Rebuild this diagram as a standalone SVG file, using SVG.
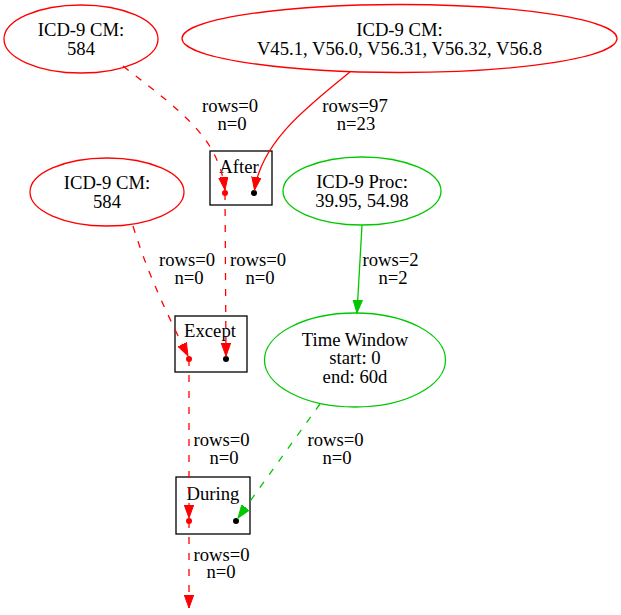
<svg xmlns="http://www.w3.org/2000/svg" width="621" height="615" viewBox="0 0 621 615">
<defs>
<style>
text{font-family:"Liberation Serif","Times New Roman","DejaVu Serif",serif;font-size:18.67px;text-anchor:middle;fill:#000}
.red{fill:none;stroke:#ff0000;stroke-width:1.3}
.green{fill:none;stroke:#00c800;stroke-width:1.3}
.box{fill:none;stroke:#000;stroke-width:1.3}
.dash{stroke-dasharray:7,9}
</style>
<marker id="ar" markerUnits="userSpaceOnUse" markerWidth="15" markerHeight="12" refX="13" refY="5" orient="auto"><path d="M0,0.3 L13,5 L0,9.7 Z" fill="#ff0000" stroke="#ff0000"/></marker>
<marker id="ag" markerUnits="userSpaceOnUse" markerWidth="15" markerHeight="12" refX="13" refY="5" orient="auto"><path d="M0,0.3 L13,5 L0,9.7 Z" fill="#00c800" stroke="#00c800"/></marker>
</defs>
<g id="n1"><ellipse class="red" cx="81" cy="39" rx="77" ry="34"/><text x="81" y="36">ICD-9 CM:</text><text x="81" y="55">584</text></g>
<g id="n2"><ellipse class="red" cx="399.5" cy="38.5" rx="217.5" ry="34"/><text x="399.5" y="36">ICD-9 CM:</text><text x="399.5" y="55">V45.1, V56.0, V56.31, V56.32, V56.8</text></g>
<g id="after"><rect class="box" x="210" y="151" width="62" height="54"/><text x="239" y="173">After</text><circle cx="225" cy="193" r="3" fill="#ff0000"/><circle cx="254" cy="193" r="3" fill="#000"/></g>
<g id="n3"><ellipse class="red" cx="107" cy="192" rx="77" ry="34"/><text x="107" y="189">ICD-9 CM:</text><text x="107" y="208">584</text></g>
<g id="n4"><ellipse class="green" cx="362" cy="191" rx="79" ry="34"/><text x="362" y="188">ICD-9 Proc:</text><text x="362" y="207">39.95, 54.98</text></g>
<g id="except"><rect class="box" x="175" y="316" width="72" height="56"/><text x="210" y="337">Except</text><circle cx="189" cy="359" r="3" fill="#ff0000"/><circle cx="226" cy="359" r="3" fill="#000"/></g>
<g id="tw"><ellipse class="green" cx="355" cy="360" rx="90.5" ry="47"/><text x="355" y="346">Time Window</text><text x="355" y="364">start: 0</text><text x="355" y="383">end: 60d</text></g>
<g id="during"><rect class="box" x="176" y="477" width="74" height="57"/><text x="213" y="500">During</text><circle cx="189" cy="521" r="3" fill="#ff0000"/><circle cx="236" cy="521" r="3" fill="#000"/></g>
<g id="edges">
<path class="red dash" d="M123,66 C160,95 195,120 212,150 C220,165 223,175 225,190" marker-end="url(#ar)"/>
<text x="230" y="112">rows=0</text><text x="232" y="130">n=0</text>
<path class="red" d="M350,72 C310,105 262,140 254.5,190" marker-end="url(#ar)"/>
<text x="355" y="112">rows=97</text><text x="356" y="130">n=23</text>
<path class="red dash" d="M225,193 L226,356" marker-end="url(#ar)"/>
<text x="258" y="266">rows=0</text><text x="260" y="284">n=0</text>
<path class="red dash" d="M133,226 C145,265 160,300 188,356" marker-end="url(#ar)"/>
<text x="187" y="266">rows=0</text><text x="189" y="284">n=0</text>
<path class="green" d="M362,225 L357,313" marker-end="url(#ag)"/>
<text x="390.5" y="266">rows=2</text><text x="393" y="284">n=2</text>
<path class="red dash" d="M189,359 L189,518" marker-end="url(#ar)"/>
<text x="221.5" y="446">rows=0</text><text x="224" y="464">n=0</text>
<path class="green dash" d="M320,404 L238,518" marker-end="url(#ag)"/>
<text x="335.5" y="446">rows=0</text><text x="337" y="464">n=0</text>
<path class="red dash" d="M189,521 L189,608" marker-end="url(#ar)"/>
<text x="221.5" y="561">rows=0</text><text x="221" y="578">n=0</text>
</g>
</svg>
